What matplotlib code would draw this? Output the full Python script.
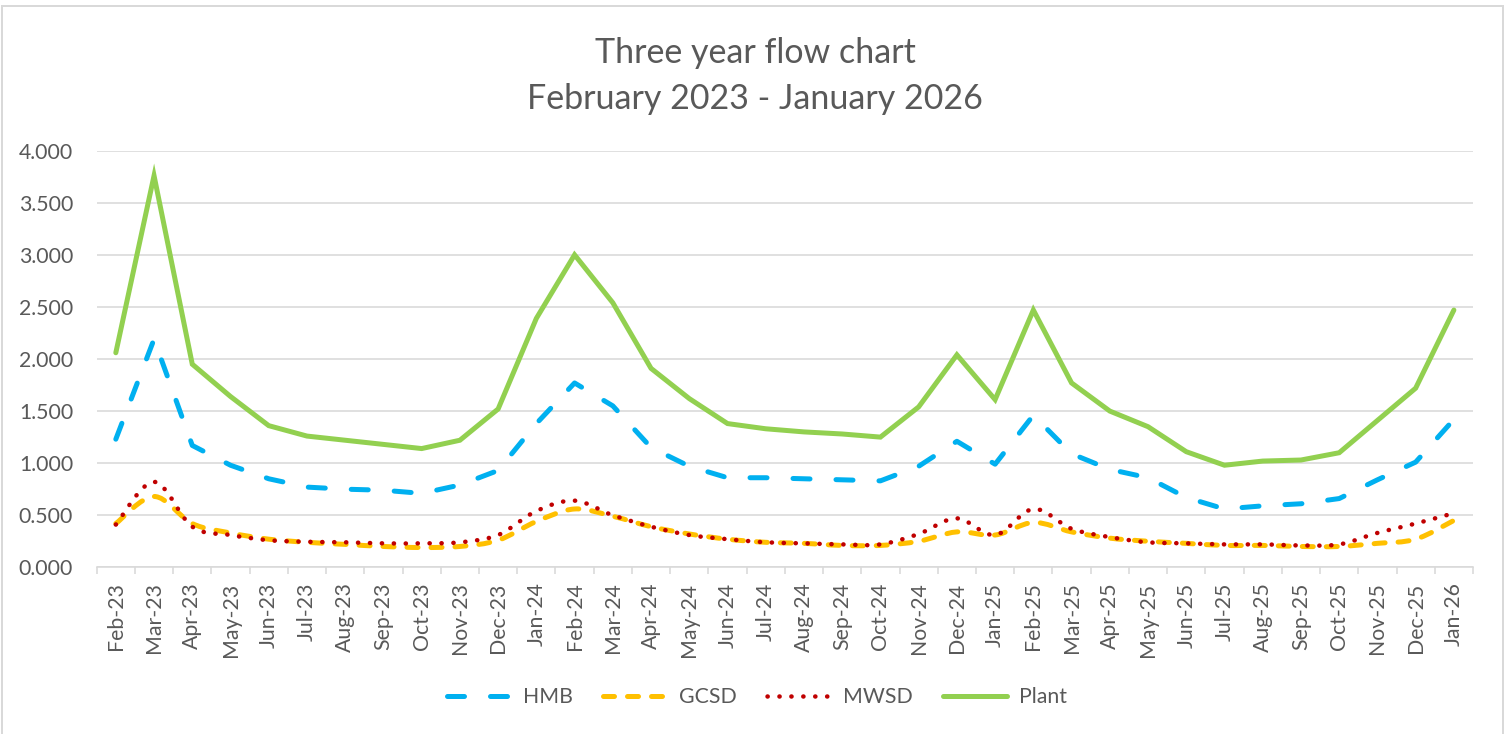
import numpy as np
import matplotlib
matplotlib.use("Agg")
import matplotlib.pyplot as plt
from matplotlib.lines import Line2D
from matplotlib.patches import PathPatch, Rectangle
from matplotlib.path import Path

plt.rcParams["font.family"] = ["Lato", "DejaVu Sans"]

# ── Data ────────────────────────────────────────────────────────────────
months = ["Feb-23", "Mar-23", "Apr-23", "May-23", "Jun-23", "Jul-23",
          "Aug-23", "Sep-23", "Oct-23", "Nov-23", "Dec-23", "Jan-24",
          "Feb-24", "Mar-24", "Apr-24", "May-24", "Jun-24", "Jul-24",
          "Aug-24", "Sep-24", "Oct-24", "Nov-24", "Dec-24", "Jan-25",
          "Feb-25", "Mar-25", "Apr-25", "May-25", "Jun-25", "Jul-25",
          "Aug-25", "Sep-25", "Oct-25", "Nov-25", "Dec-25", "Jan-26"]

hmb = [1.23, 2.19, 1.17, 0.98, 0.85, 0.77, 0.75, 0.74, 0.71, 0.79, 0.93, 1.38,
       1.77, 1.55, 1.15, 0.97, 0.86, 0.86, 0.85, 0.84, 0.83, 0.97, 1.21, 0.99,
       1.46, 1.09, 0.94, 0.86, 0.67, 0.56, 0.59, 0.61, 0.66, 0.84, 1.01, 1.42]

gcsd = [0.42, 0.68, 0.42, 0.33, 0.27, 0.24, 0.22, 0.20, 0.19, 0.20, 0.26, 0.44,
        0.56, 0.49, 0.39, 0.32, 0.27, 0.24, 0.23, 0.21, 0.21, 0.25, 0.34, 0.31,
        0.43, 0.34, 0.28, 0.25, 0.23, 0.21, 0.21, 0.20, 0.20, 0.23, 0.27, 0.45]

mwsd = [0.41, 0.82, 0.39, 0.31, 0.26, 0.245, 0.24, 0.23, 0.23, 0.24, 0.31, 0.54,
        0.64, 0.50, 0.39, 0.31, 0.27, 0.24, 0.23, 0.22, 0.22, 0.32, 0.47, 0.31,
        0.56, 0.37, 0.29, 0.24, 0.23, 0.22, 0.22, 0.21, 0.22, 0.33, 0.42, 0.52]

plant = [2.06, 3.76, 1.95, 1.64, 1.36, 1.26, 1.22, 1.18, 1.14, 1.22, 1.52, 2.39,
         3.00, 2.54, 1.91, 1.62, 1.38, 1.33, 1.30, 1.28, 1.25, 1.54, 2.04, 1.61,
         2.47, 1.77, 1.50, 1.35, 1.11, 0.98, 1.02, 1.03, 1.10, 1.41, 1.72, 2.47]

yticks = [0.0, 0.5, 1.0, 1.5, 2.0, 2.5, 3.0, 3.5, 4.0]

# ── Styles ──────────────────────────────────────────────────────────────
TXT = "#595959"
GRID = "#D9D9D9"
PX = 72 / 100          # points per pixel at dpi 100

styles = {
    "HMB":   dict(color="#00B0F0", lw=5 * PX, ls=(0, (3.4, 5.2))),
    "GCSD":  dict(color="#FFC000", lw=5 * PX, ls=(0, (2.2, 2.6))),
    "MWSD":  dict(color="#C00000", lw=4.5 * PX, ls=(0, (0.05, 2.6))),
    "Plant": dict(color="#92D050", lw=5 * PX, ls="-"),
}


def smooth_path(x, y):
    """Excel-like smoothed line: Catmull-Rom segments as cubic Beziers."""
    n = len(x)
    verts = [(x[0], y[0])]
    codes = [Path.MOVETO]
    for i in range(n - 1):
        xp, yp = (x[i - 1], y[i - 1]) if i > 0 else (x[i], y[i])
        xn, yn = (x[i + 2], y[i + 2]) if i + 2 < n else (x[i + 1], y[i + 1])
        verts.append((x[i] + (x[i + 1] - xp) / 6, y[i] + (y[i + 1] - yp) / 6))
        verts.append((x[i + 1] - (xn - x[i]) / 6, y[i + 1] - (yn - y[i]) / 6))
        verts.append((x[i + 1], y[i + 1]))
        codes += [Path.CURVE4] * 3
    return Path(verts, codes)


fig = plt.figure(figsize=(15.1, 7.34), dpi=100)
ax = fig.add_axes([96.7 / 1510, 1 - 567.3 / 734, (1473 - 96.7) / 1510,
                   (567.3 - 150.7) / 734])

x = np.arange(len(months))

st = styles["HMB"]
ax.plot(x, hmb, color=st["color"], lw=st["lw"], ls=st["ls"],
        dash_capstyle="round", dash_joinstyle="round", zorder=3)

for name, vals, z in (("GCSD", gcsd, 4), ("MWSD", mwsd, 5)):
    st = styles[name]
    ax.add_patch(PathPatch(smooth_path(x, vals), fill=False,
                           edgecolor=st["color"], lw=st["lw"], ls=st["ls"],
                           capstyle="round", joinstyle="round", zorder=z))

st = styles["Plant"]
ax.plot(x, plant, color=st["color"], lw=st["lw"], solid_joinstyle="miter",
        solid_capstyle="round", zorder=6)

# ── Axes ────────────────────────────────────────────────────────────────
ax.set_xlim(-0.5, len(months) - 0.5)
ax.set_ylim(0, 4)
ax.set_yticks(yticks)
ax.set_yticklabels([f"{v:.3f}" for v in yticks])
ax.yaxis.grid(True, color=GRID, lw=1.6 * PX)
ax.set_axisbelow(True)

ax.set_xticks(x)
ax.set_xticklabels(months, rotation=90)
ax.set_xticks(np.arange(len(months) + 1) - 0.5, minor=True)
ax.tick_params(axis="x", which="major", length=0, pad=11, labelsize=15.3,
               labelcolor=TXT)
ax.tick_params(axis="x", which="minor", length=5, width=1.6 * PX, color=GRID)
ax.tick_params(axis="y", length=0, pad=17, labelsize=15.3, labelcolor=TXT)
for side in ("top", "right", "left"):
    ax.spines[side].set_visible(False)
ax.spines["bottom"].set_color(GRID)
ax.spines["bottom"].set_linewidth(1.6 * PX)

# ── Title ───────────────────────────────────────────────────────────────
fig.text(0.5, 1 - 63 / 734, "Three year flow chart", ha="center",
         va="baseline", fontsize=24.5, color=TXT)
fig.text(0.5, 1 - 109 / 734, "February 2023 - January 2026", ha="center",
         va="baseline", fontsize=24.5, color=TXT)

# ── Legend ──────────────────────────────────────────────────────────────
handles = []
for name in ("HMB", "GCSD", "MWSD", "Plant"):
    st = styles[name]
    handles.append(Line2D([], [], color=st["color"], lw=st["lw"], ls=st["ls"],
                          dash_capstyle="round", solid_capstyle="round",
                          label=name))
fig.legend(handles=handles, loc="center", bbox_to_anchor=(757 / 1510, 1 - 697 / 734),
           ncol=4, frameon=False, fontsize=15.3, labelcolor=TXT,
           handlelength=3.0, handletextpad=0.6, columnspacing=1.4)

# chart-area border
fig.patches.append(Rectangle((1.5 / 1510, -0.01), (1503 - 1.5) / 1510,
                             1 - 5.5 / 734 + 0.01, transform=fig.transFigure,
                             fill=False, edgecolor=GRID, lw=2 * PX))

fig.savefig("out.png", dpi=100)
